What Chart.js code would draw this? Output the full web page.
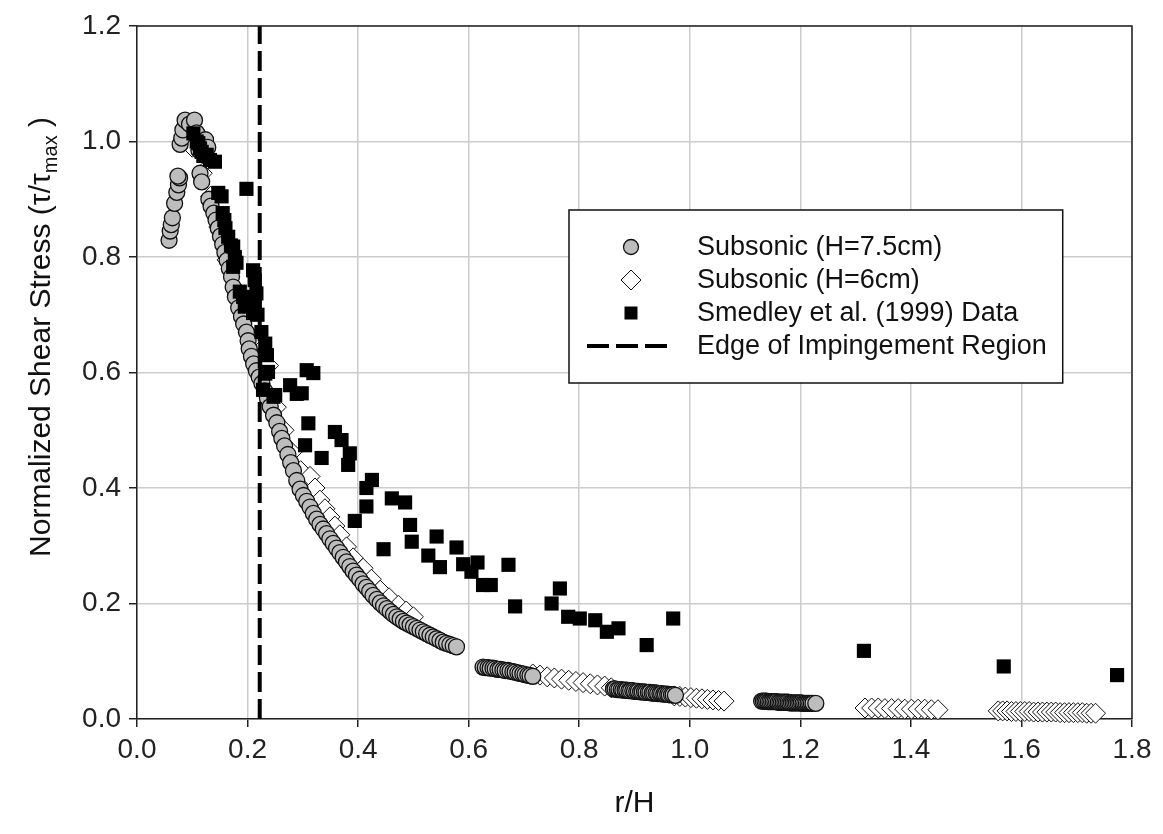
<!DOCTYPE html>
<html>
<head>
<meta charset="utf-8">
<script src="https://cdn.jsdelivr.net/npm/chart.js@4.4.0/dist/chart.umd.min.js"></script>
<style>
  html, body { margin: 0; padding: 0; background: #fff; }
</style>
</head>
<body>
<canvas id="myChart" width="1163" height="834"></canvas>
<script>
// data
const sub75X = [0.058,0.060,0.062,0.064,0.068,0.072,0.075,0.077,0.074,0.078,0.081,0.083,0.087,0.095,0.104,0.108,0.112,0.114,0.117,0.124,0.128,0.130,0.134,0.139,0.143,0.147,
  0.151,0.155,0.159,0.163,0.167,0.171,0.174,0.178,0.184,0.189,0.193,0.198,0.201,0.203,0.207,0.211,0.216,0.221,0.226,0.231,0.236,0.241,0.247,0.253,0.258,0.262,0.267,0.273,0.278,0.283,0.289,0.295,
  0.301,0.307,0.313,0.319,0.325,0.331,0.337,0.343,0.349,0.355,0.361,0.367,0.373,0.379,0.385,0.391,0.397,0.403,0.409,0.415,0.421,0.427,0.434,0.440,0.446,0.452,0.458,0.464,0.470,0.476,0.482,0.488,0.494,
  0.500,0.506,0.512,0.518,0.524,0.530,0.536,0.542,0.548,0.554,0.560,0.566,0.572,0.578,
  0.626,0.630,0.635,0.639,0.644,0.648,0.653,0.657,0.662,0.666,0.671,0.675,0.680,0.684,0.689,0.693,0.698,0.702,0.707,0.711,0.716,
  0.862,0.865,0.869,0.872,0.876,0.879,0.883,0.886,0.890,0.893,0.897,0.900,0.904,0.907,0.911,0.914,0.918,0.921,0.925,0.928,0.932,0.935,0.939,0.942,0.946,0.949,0.953,0.956,0.960,0.963,0.967,0.970,0.974,
  1.130,1.133,1.136,1.139,1.142,1.145,1.148,1.151,1.154,1.157,1.160,1.163,1.166,1.169,1.172,1.175,1.178,1.181,1.184,1.187,1.190,1.193,1.196,1.199,1.202,1.205,1.208,1.211,1.214,1.217,1.220,1.223,1.228];
const sub75Y = [0.829,0.845,0.856,0.868,0.893,0.912,0.925,0.937,0.940,0.995,1.006,1.020,1.037,1.030,1.037,1.015,0.985,0.945,0.930,1.003,0.990,0.900,0.888,0.876,0.864,0.850,
  0.836,0.822,0.808,0.794,0.780,0.766,0.748,0.731,0.712,0.697,0.684,0.670,0.655,0.641,0.628,0.615,0.603,0.592,0.581,0.568,0.555,0.541,0.526,0.513,0.498,0.486,0.473,0.458,0.444,0.430,0.413,0.398,
  0.387,0.377,0.367,0.356,0.346,0.337,0.329,0.321,0.312,0.304,0.296,0.288,0.280,0.272,0.264,0.256,0.249,0.242,0.234,0.228,0.221,0.214,0.207,0.201,0.196,0.191,0.186,0.181,0.177,0.173,0.169,0.166,0.163,
  0.160,0.157,0.154,0.151,0.148,0.145,0.142,0.139,0.136,0.133,0.131,0.129,0.127,0.125,
  0.090,0.089,0.089,0.088,0.088,0.087,0.086,0.086,0.085,0.084,0.084,0.083,0.082,0.081,0.080,0.079,0.078,0.077,0.076,0.075,0.074,
  0.052,0.052,0.051,0.051,0.051,0.050,0.050,0.050,0.049,0.049,0.049,0.048,0.048,0.048,0.047,0.047,0.047,0.046,0.046,0.046,0.045,0.045,0.045,0.044,0.044,0.044,0.043,0.043,0.043,0.042,0.042,0.042,0.041,
  0.031,0.031,0.031,0.031,0.030,0.030,0.030,0.030,0.030,0.030,0.029,0.029,0.029,0.029,0.029,0.029,0.029,0.028,0.028,0.028,0.028,0.028,0.028,0.028,0.028,0.027,0.027,0.027,0.027,0.027,0.027,0.027,0.027];

const sub6X = [0.100,0.118,0.133,0.148,0.163,0.178,0.193,0.208,0.224,0.238,0.252,0.266,0.280,0.296,0.313,0.322,0.331,0.340,0.349,0.358,0.367,0.379,0.391,0.409,0.424,0.440,0.456,0.473,0.487,0.500,
  0.716,0.729,0.742,0.755,0.768,0.781,0.794,0.807,0.820,0.833,0.846,0.858,
  0.972,0.982,0.992,1.002,1.012,1.022,1.032,1.042,1.052,1.062,
  1.317,1.329,1.341,1.353,1.365,1.377,1.389,1.401,1.413,1.425,1.437,1.449,
  1.558,1.566,1.574,1.582,1.590,1.598,1.606,1.614,1.622,1.630,1.638,1.646,1.654,1.662,1.670,1.678,1.686,1.694,1.702,1.710,1.718,1.726,1.734];
const sub6Y = [0.990,0.945,0.905,0.852,0.795,0.745,0.700,0.658,0.628,0.612,0.540,0.500,0.462,0.430,0.420,0.400,0.379,0.364,0.350,0.334,0.319,0.298,0.279,0.261,0.242,0.223,0.210,0.197,0.187,0.177,
  0.078,0.076,0.073,0.071,0.069,0.067,0.065,0.063,0.061,0.059,0.057,0.054,
  0.040,0.039,0.038,0.037,0.036,0.035,0.034,0.033,0.032,0.031,
  0.019,0.019,0.019,0.018,0.018,0.018,0.017,0.017,0.017,0.017,0.016,0.016,
  0.014,0.014,0.014,0.013,0.013,0.013,0.013,0.013,0.012,0.012,0.012,0.012,0.012,0.012,0.011,0.011,0.011,0.011,0.011,0.011,0.010,0.010,0.010];

const smedX = [0.102,0.108,0.111,0.114,0.117,0.120,0.126,0.132,0.141,0.147,0.153,0.155,0.158,0.160,0.165,0.170,0.174,0.177,0.174,0.180,0.186,0.192,0.195,0.198,0.210,0.213,0.216,0.210,0.213,0.218,
  0.225,0.232,0.235,0.237,0.228,0.247,0.250,0.277,0.289,0.232,
  0.307,0.319,0.298,0.310,0.304,0.334,0.358,0.370,0.385,0.382,0.425,0.415,0.415,0.394,0.461,0.485,0.494,0.497,0.446,0.542,0.527,0.548,0.578,0.590,0.616,0.605,0.626,0.640,0.672,0.684,
  0.765,0.750,0.780,0.801,0.829,0.850,0.871,0.922,0.970,1.315,1.568,1.773];
const smedY = [1.014,1.000,0.997,0.988,0.982,0.975,0.977,0.968,0.965,0.911,0.905,0.876,0.864,0.850,0.835,0.820,0.818,0.800,0.783,0.790,0.740,0.731,0.714,0.918,0.777,0.760,0.737,0.703,0.714,0.700,
  0.670,0.650,0.630,0.601,0.570,0.558,0.561,0.578,0.563,0.598,
  0.604,0.599,0.564,0.512,0.474,0.452,0.497,0.483,0.460,0.440,0.414,0.400,0.368,0.343,0.382,0.375,0.336,0.307,0.294,0.316,0.283,0.263,0.297,0.268,0.271,0.255,0.232,0.232,0.267,0.195,
  0.226,0.200,0.177,0.174,0.171,0.151,0.157,0.128,0.174,0.118,0.091,0.076];

const edgeX = [0.222, 0.222];
const edgeY = [0, 1.2];

const xTicks = [0, 0.2, 0.4, 0.6, 0.8, 1.0, 1.2, 1.4, 1.6, 1.8];
const yTicks = [0, 0.2, 0.4, 0.6, 0.8, 1.0, 1.2];

const labels = ['Subsonic (H=7.5cm)', 'Subsonic (H=6cm)', 'Smedley et al. (1999) Data', 'Edge of Impingement Region'];

const FONT = '"Liberation Sans", Arial, sans-serif';

function pts(xs, ys) {
  return xs.map((x, i) => ({ x: x, y: ys[i] }));
}

// box, titles and legend drawn on top
const extras = {
  id: 'extras',
  afterDraw(chart) {
    const ctx = chart.ctx;
    const a = chart.chartArea;
    ctx.save();
    ctx.strokeStyle = '#222';
    ctx.lineWidth = 1.5;
    ctx.beginPath();
    ctx.moveTo(a.left, a.top);
    ctx.lineTo(a.right, a.top);
    ctx.lineTo(a.right, a.bottom);
    ctx.stroke();

    // x title
    ctx.fillStyle = '#111';
    ctx.font = '30px ' + FONT;
    ctx.textAlign = 'center';
    ctx.textBaseline = 'alphabetic';
    ctx.fillText('r/H', (a.left + a.right) / 2, 812);

    // y title with subscript
    ctx.save();
    ctx.translate(50, 337);
    ctx.rotate(-Math.PI / 2);
    ctx.textAlign = 'left';
    const p1 = 'Normalized Shear Stress (\u03c4/\u03c4', p2 = 'max', p3 = ' )';
    ctx.font = '30px ' + FONT;
    const w1 = ctx.measureText(p1).width, w3 = ctx.measureText(p3).width;
    ctx.font = '20px ' + FONT;
    const w2 = ctx.measureText(p2).width;
    let x = -(w1 + w2 + w3) / 2;
    ctx.font = '30px ' + FONT;
    ctx.fillText(p1, x, 0);
    x += w1;
    ctx.font = '20px ' + FONT;
    ctx.fillText(p2, x, 7);
    x += w2;
    ctx.font = '30px ' + FONT;
    ctx.fillText(p3, x, 0);
    ctx.restore();

    // legend
    ctx.textAlign = 'left';
    ctx.font = '27px ' + FONT;
    let maxW = 0;
    labels.forEach(l => { maxW = Math.max(maxW, ctx.measureText(l).width); });
    const lx = 569, ly = 210, lh = 173, tx = 697, mx = 631;
    const lw = tx - lx + maxW + 16;
    ctx.fillStyle = '#fff';
    ctx.fillRect(lx, ly, lw, lh);
    ctx.strokeStyle = '#111';
    ctx.lineWidth = 1.5;
    ctx.strokeRect(lx, ly, lw, lh);
    const rows = [247, 280, 313, 346];

    ctx.beginPath();
    ctx.arc(mx, rows[0], 7.5, 0, Math.PI * 2);
    ctx.fillStyle = '#bdbdbd';
    ctx.fill();
    ctx.strokeStyle = '#111';
    ctx.lineWidth = 1.3;
    ctx.stroke();

    ctx.beginPath();
    ctx.moveTo(mx - 10, rows[1]);
    ctx.lineTo(mx, rows[1] - 10);
    ctx.lineTo(mx + 10, rows[1]);
    ctx.lineTo(mx, rows[1] + 10);
    ctx.closePath();
    ctx.fillStyle = '#fff';
    ctx.fill();
    ctx.strokeStyle = '#111';
    ctx.lineWidth = 1;
    ctx.stroke();

    ctx.fillStyle = '#000';
    ctx.fillRect(mx - 6.5, rows[2] - 6.5, 13, 13);

    ctx.beginPath();
    ctx.setLineDash([22, 7]);
    ctx.lineWidth = 4;
    ctx.strokeStyle = '#000';
    ctx.moveTo(587, rows[3]);
    ctx.lineTo(667, rows[3]);
    ctx.stroke();
    ctx.setLineDash([]);

    ctx.fillStyle = '#111';
    ctx.textBaseline = 'middle';
    labels.forEach((l, i) => ctx.fillText(l, tx, rows[i] + 1));
    ctx.restore();
  }
};

const ctx = document.getElementById('myChart').getContext('2d');

const myChart = new Chart(ctx, {
  type: 'scatter',
  data: {
    datasets: [{
      label: labels[0],
      data: pts(sub75X, sub75Y),
      pointStyle: 'circle',
      pointRadius: 8,
      backgroundColor: '#bdbdbd',
      borderColor: '#111',
      borderWidth: 1.3,
      order: 2,
      clip: false
    }, {
      label: labels[1],
      data: pts(sub6X, sub6Y),
      pointStyle: 'rectRot',
      pointRadius: 10,
      backgroundColor: '#fff',
      borderColor: '#111',
      borderWidth: 1,
      order: 3,
      clip: false
    }, {
      label: labels[2],
      data: pts(smedX, smedY),
      pointStyle: 'rect',
      pointRadius: 10,
      backgroundColor: '#000',
      borderColor: '#000',
      borderWidth: 0,
      order: 0,
      clip: false
    }, {
      type: 'line',
      label: labels[3],
      data: pts(edgeX, edgeY),
      borderColor: '#000',
      borderWidth: 4,
      borderDash: [20, 7],
      pointRadius: 0,
      fill: false,
      order: 1
    }]
  },
  options: {
    responsive: false,
    animation: false,
    layout: {
      padding: { left: 0, top: 26, right: 31, bottom: 0 }
    },
    plugins: {
      legend: { display: false },
      tooltip: { enabled: false }
    },
    scales: {
      x: {
        type: 'linear',
        min: 0,
        max: 1.8,
        afterBuildTicks: (s) => { s.ticks = xTicks.map(v => ({ value: v })); },
        afterFit: (s) => { s.height = 115; },
        ticks: {
          font: { family: FONT, size: 28 },
          color: '#222',
          padding: 6,
          maxRotation: 0,
          autoSkip: false,
          callback: (v) => v.toFixed(1)
        },
        grid: { color: '#cccccc', lineWidth: 1.5, tickColor: '#222', tickLength: 8 },
        border: { color: '#222', width: 1.5 }
      },
      y: {
        type: 'linear',
        min: 0,
        max: 1.2,
        afterBuildTicks: (s) => { s.ticks = yTicks.map(v => ({ value: v })); },
        afterFit: (s) => { s.width = 137; },
        ticks: {
          font: { family: FONT, size: 28 },
          color: '#222',
          padding: 8,
          autoSkip: false,
          callback: (v) => v.toFixed(1)
        },
        grid: { color: '#cccccc', lineWidth: 1.5, tickColor: '#222', tickLength: 8 },
        border: { color: '#222', width: 1.5 }
      }
    }
  },
  plugins: [extras]
});
</script>
</body>
</html>
